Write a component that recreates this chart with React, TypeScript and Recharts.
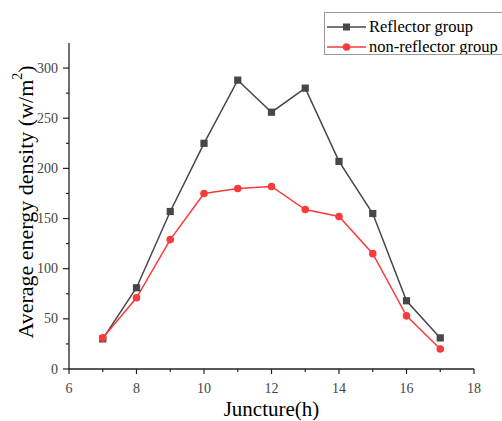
import React from "react";
import { LineChart, Line, XAxis, YAxis, Legend } from "recharts";

const hours = [7, 8, 9, 10, 11, 12, 13, 14, 15, 16, 17];
const reflector = [30, 81, 157, 225, 288, 256, 280, 207, 155, 68, 31];
const nonReflector = [31, 71, 129, 175, 180, 182, 159, 152, 115, 53, 20];
const xTicks = [6, 7, 8, 9, 10, 11, 12, 13, 14, 15, 16, 17, 18];
const yTicks = [0, 25, 50, 75, 100, 125, 150, 175, 200, 225, 250, 275, 300];
const seriesNames = ["Reflector group", "non-reflector group"];

const data = hours.map((h, i) => ({ h, r: reflector[i], n: nonReflector[i] }));

const FONT = "'Liberation Serif', 'Times New Roman', Times, serif";
const GRAY = "#474747";
const RED = "#fb3a3a";

const XTick = (props: any) => {
  const { x, y, payload } = props;
  const major = payload.value % 2 === 0;
  return (
    <g>
      <line x1={x} x2={x} y1={y} y2={y + (major ? 5 : 3)} stroke="#222" strokeWidth={1.2} />
      {major && (
        <text x={x} y={y + 19} textAnchor="middle" dominantBaseline="central" fontSize={14} fill="#444" fontFamily={FONT}>
          {payload.value}
        </text>
      )}
    </g>
  );
};

const YTick = (props: any) => {
  const { x, y, payload } = props;
  const major = payload.value % 50 === 0;
  return (
    <g>
      <line x1={x - (major ? 6 : 3)} x2={x} y1={y} y2={y} stroke="#222" strokeWidth={1.2} />
      {major && (
        <text x={x - 11} y={y} textAnchor="end" dominantBaseline="central" fontSize={14} fill="#444" fontFamily={FONT}>
          {payload.value}
        </text>
      )}
    </g>
  );
};

const SquareDot = (props: any) => {
  const { cx, cy, index } = props;
  return <rect key={"s" + index} x={cx - 3.6} y={cy - 3.6} width={7.2} height={7.2} fill={GRAY} />;
};

const CircleDot = (props: any) => {
  const { cx, cy, index } = props;
  return <circle key={"c" + index} cx={cx} cy={cy} r={3.8} fill={RED} />;
};

const LegendBox = () => (
  <div
    style={{
      position: "absolute",
      left: 324,
      top: 12,
      width: 178,
      height: 43,
      borderTop: "1px solid #9a9a9a",
      borderLeft: "1px solid #9a9a9a",
      borderBottom: "1px solid #9a9a9a",
      boxSizing: "border-box",
      overflow: "hidden",
      whiteSpace: "nowrap",
      fontFamily: FONT,
      fontSize: 16.5,
      color: "#000",
    }}
  >
    {seriesNames.map((name, i) => (
      <div key={name} style={{ position: "absolute", left: 0, top: 3.5 + i * 20, height: 20, display: "flex", alignItems: "center" }}>
        <svg width={44} height={20} style={{ display: "block" }}>
          <line x1={2} x2={41} y1={10} y2={10} stroke={i === 0 ? GRAY : RED} strokeWidth={1.5} />
          {i === 0 ? (
            <rect x={18} y={6.5} width={7} height={7} fill={GRAY} />
          ) : (
            <circle cx={21.5} cy={10} r={3.8} fill={RED} />
          )}
        </svg>
        <span style={{ lineHeight: "20px" }}>{name}</span>
      </div>
    ))}
  </div>
);

const YLabel = (props: any) => {
  const { viewBox } = props;
  const cy = viewBox.y + viewBox.height / 2 - 4;
  const cx = 25;
  return (
    <text
      x={cx}
      y={cy}
      transform={`rotate(-90 ${cx} ${cy})`}
      textAnchor="middle"
      dominantBaseline="central"
      fontSize={22}
      fontFamily={FONT}
      fill="#000"
    >
      Average energy density (w/m
      <tspan fontSize={14} dy={-8}>2</tspan>
      <tspan dy={8}>)</tspan>
    </text>
  );
};

const XLabel = (props: any) => {
  const { viewBox } = props;
  const cx = viewBox.x + viewBox.width / 2;
  return (
    <text x={cx} y={409} textAnchor="middle" dominantBaseline="central" fontSize={21} fontFamily={FONT} fill="#000">
      Juncture(h)
    </text>
  );
};

export default function App() {
  return (
    <div style={{ position: "absolute", left: 0, top: 0, width: 502, height: 421, background: "#fff", overflow: "hidden" }}>
      <LineChart width={502} height={421} data={data} margin={{ top: 43, right: 28, left: 0, bottom: 0 }}>
        <XAxis
          dataKey="h"
          type="number"
          domain={[6, 18]}
          ticks={xTicks}
          interval={0}
          tickSize={0}
          tickMargin={0}
          tickLine={false}
          tick={<XTick />}
          height={52}
          stroke="#222"
          strokeWidth={1.3}
          label={<XLabel />}
        />
        <YAxis
          type="number"
          domain={[0, 325]}
          ticks={yTicks}
          interval={0}
          tickSize={0}
          tickMargin={0}
          tickLine={false}
          tick={<YTick />}
          width={69}
          stroke="#222"
          strokeWidth={1.3}
          label={<YLabel />}
        />
        <Legend content={<LegendBox />} wrapperStyle={{ position: "absolute", left: 0, top: 0, width: 0, height: 0 }} />
        <Line
          dataKey="r"
          name={seriesNames[0]}
          stroke={GRAY}
          strokeWidth={1.5}
          dot={<SquareDot />}
          activeDot={false}
          isAnimationActive={false}
        />
        <Line
          dataKey="n"
          name={seriesNames[1]}
          stroke={RED}
          strokeWidth={1.5}
          dot={<CircleDot />}
          activeDot={false}
          isAnimationActive={false}
        />
      </LineChart>
    </div>
  );
}
